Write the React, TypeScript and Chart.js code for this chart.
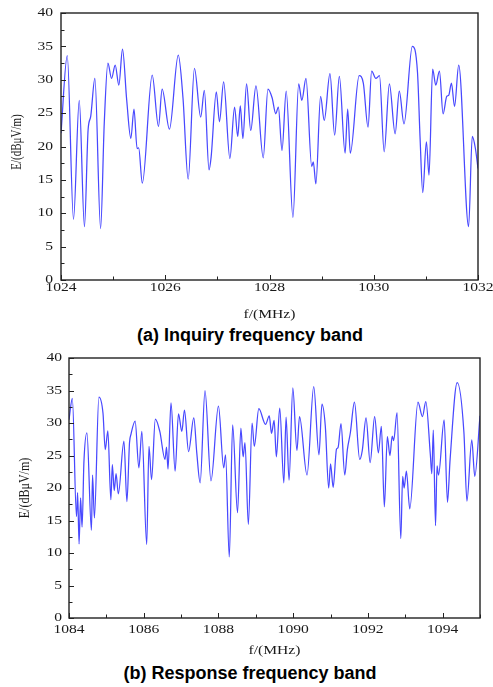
import React, { useEffect, useRef } from 'react';
import { Chart, registerables } from 'chart.js';

Chart.register(...registerables);

// ---------- data: (a) inquiry band ----------
const freqA = [
  1024.0, 1024.12, 1024.24, 1024.35, 1024.45, 1024.52, 1024.57, 1024.65, 1024.76, 1024.83,
  1024.9, 1024.97, 1025.04, 1025.11, 1025.18, 1025.26, 1025.34, 1025.4, 1025.46, 1025.49,
  1025.56, 1025.75, 1025.87, 1025.94, 1026.08, 1026.25, 1026.34, 1026.44, 1026.56, 1026.68,
  1026.75, 1026.84, 1026.88, 1026.98, 1027.04, 1027.12, 1027.24, 1027.33, 1027.39, 1027.44,
  1027.49, 1027.56, 1027.64, 1027.74, 1027.88, 1027.97, 1028.05, 1028.12, 1028.17, 1028.24,
  1028.32, 1028.45, 1028.56, 1028.62, 1028.7, 1028.81, 1028.84, 1028.89, 1028.98, 1029.05,
  1029.16, 1029.25, 1029.34, 1029.45, 1029.5, 1029.55, 1029.72, 1029.8, 1029.89, 1029.96,
  1030.04, 1030.11, 1030.2, 1030.3, 1030.41, 1030.49, 1030.58, 1030.74, 1030.84, 1030.89,
  1030.94, 1031.01, 1031.06, 1031.13, 1031.19, 1031.26, 1031.33, 1031.4, 1031.44, 1031.49,
  1031.55, 1031.63, 1031.82, 1031.89, 1031.95, 1032.0,
];
const fieldA = [
  22.0, 33.6, 9.1, 26.9, 8.0, 22.5, 24.5, 30.2, 7.7, 23.5,
  32.5, 30.2, 32.2, 29.2, 34.6, 27.0, 21.2, 25.6, 19.7, 19.8,
  14.5, 30.7, 23.0, 28.6, 22.6, 33.7, 27.3, 15.1, 31.7, 24.4,
  28.4, 16.5, 18.4, 28.2, 23.7, 29.7, 18.2, 25.9, 21.5, 26.1,
  21.2, 29.4, 22.4, 29.1, 18.3, 28.6, 27.3, 24.9, 25.9, 19.4,
  28.3, 9.4, 29.4, 26.9, 30.2, 17.0, 17.7, 14.4, 27.5, 23.9,
  30.9, 21.7, 30.5, 19.0, 25.6, 19.0, 30.6, 29.5, 22.9, 31.3,
  30.2, 30.6, 19.2, 29.4, 21.9, 28.3, 23.4, 35.0, 31.0, 21.0,
  13.1, 20.7, 15.7, 31.6, 29.2, 31.3, 24.9, 27.5, 27.7, 29.5,
  26.0, 32.2, 8.0, 21.5, 19.7, 16.7,
];

// ---------- data: (b) response band ----------
const freqB = [
  1084.0, 1084.09, 1084.2, 1084.23, 1084.27, 1084.31, 1084.35, 1084.4, 1084.48, 1084.6,
  1084.63, 1084.68, 1084.8, 1084.91, 1084.97, 1085.04, 1085.12, 1085.16, 1085.21, 1085.26,
  1085.32, 1085.47, 1085.55, 1085.62, 1085.66, 1085.77, 1085.87, 1085.95, 1086.08, 1086.14,
  1086.21, 1086.31, 1086.43, 1086.57, 1086.61, 1086.65, 1086.73, 1086.84, 1086.93, 1087.02,
  1087.09, 1087.2, 1087.34, 1087.42, 1087.51, 1087.64, 1087.8, 1088.0, 1088.14, 1088.19,
  1088.29, 1088.38, 1088.51, 1088.6, 1088.66, 1088.71, 1088.8, 1088.9, 1088.96, 1089.08,
  1089.26, 1089.36, 1089.42, 1089.49, 1089.55, 1089.64, 1089.75, 1089.81, 1089.89, 1089.99,
  1090.1, 1090.17, 1090.37, 1090.55, 1090.69, 1090.77, 1090.86, 1090.95, 1091.0, 1091.07,
  1091.16, 1091.2, 1091.28, 1091.38, 1091.45, 1091.53, 1091.64, 1091.78, 1091.85, 1091.95,
  1092.06, 1092.18, 1092.28, 1092.36, 1092.44, 1092.52, 1092.59, 1092.65, 1092.69, 1092.78,
  1092.88, 1092.93, 1092.97, 1093.03, 1093.12, 1093.34, 1093.46, 1093.55, 1093.67, 1093.71,
  1093.75, 1093.81, 1093.85, 1093.89, 1094.04, 1094.13, 1094.2, 1094.39, 1094.57, 1094.65,
  1094.78, 1094.86, 1095.0,
];
const fieldB = [
  30.5, 33.8, 15.6, 19.3, 11.4, 18.5, 14.0, 24.1, 28.5, 13.5,
  22.0, 15.4, 34.0, 31.5, 25.9, 28.8, 18.2, 23.6, 19.6, 22.2,
  19.1, 27.2, 17.9, 27.0, 28.3, 30.3, 23.1, 28.7, 11.3, 26.4,
  21.3, 30.6, 28.7, 24.4, 26.3, 22.9, 33.1, 22.6, 31.4, 28.7,
  32.0, 25.6, 30.8, 25.4, 20.8, 35.0, 21.1, 32.6, 23.1, 25.1,
  9.4, 29.7, 16.2, 29.2, 24.8, 27.0, 14.4, 30.0, 26.4, 32.2,
  29.8, 31.1, 28.4, 30.4, 24.8, 32.3, 20.8, 30.9, 21.2, 35.4,
  25.8, 31.0, 22.0, 35.6, 25.1, 32.9, 29.5, 20.0, 23.7, 20.1,
  26.0, 26.2, 29.9, 22.0, 25.9, 28.5, 33.2, 24.4, 25.8, 30.8,
  23.9, 31.0, 25.4, 29.5, 17.1, 27.9, 25.0, 28.0, 27.3, 31.6,
  12.2, 21.8, 20.0, 22.6, 16.8, 33.2, 31.0, 33.3, 25.2, 22.2,
  28.9, 14.2, 23.4, 22.0, 30.5, 17.8, 24.4, 36.2, 28.5, 18.0,
  27.4, 21.8, 31.1,
];

const yTickLabels = [0, 5, 10, 15, 20, 25, 30, 35, 40];
const xTickLabelsA = [1024, 1026, 1028, 1030, 1032];
const xTickLabelsB = [1084, 1086, 1088, 1090, 1092, 1094];
const yTitle = 'E/(dBμV/m)';
const xTitle = 'f/(MHz)';
const captionA = '(a) Inquiry frequency band';
const captionB = '(b) Response frequency band';

type AxisCfg = {
  xMajor: number[];
  xMinorStep: number;
  yMajor: number[];
  yMinorStep: number;
  stretch: number;
  labelFont: number;
  yTitleFont: number;
  yLabelGap: number;
  xLabelGap: number;
  yTitleX: number;
  yTitleY: number;
  xTitleY: number;
};

function drawText(ctx: CanvasRenderingContext2D, text: string, x: number, y: number, align: CanvasTextAlign, stretch: number, rotate = false) {
  ctx.save();
  ctx.translate(x, y);
  if (rotate) {
    ctx.rotate(-Math.PI / 2);
    ctx.scale(1, stretch);
  } else {
    ctx.scale(stretch, 1);
  }
  ctx.textAlign = align;
  ctx.textBaseline = 'middle';
  ctx.fillText(text, 0, 0);
  ctx.restore();
}

const sciAxes = {
  id: 'sciAxes',
  afterDraw(chart: any, _args: any, cfg: AxisCfg) {
    const ctx: CanvasRenderingContext2D = chart.ctx;
    const { left, right, top, bottom } = chart.chartArea;
    const xs = chart.scales.x;
    const ys = chart.scales.y;
    ctx.save();
    ctx.strokeStyle = '#222';
    ctx.fillStyle = '#1a1a1a';
    // inward ticks
    ctx.lineWidth = 1;
    ctx.beginPath();
    for (let v = ys.min; v <= ys.max + 1e-9; v += cfg.yMinorStep) {
      const py = Math.round(ys.getPixelForValue(v)) + 0.5;
      const major = Math.abs(v / 5 - Math.round(v / 5)) < 1e-6;
      ctx.moveTo(left, py);
      ctx.lineTo(left + (major ? 5 : 3.5), py);
    }
    for (let v = xs.min; v <= xs.max + 1e-9; v += cfg.xMinorStep) {
      const px = Math.round(xs.getPixelForValue(v)) + 0.5;
      const major = cfg.xMajor.some((m) => Math.abs(m - v) < 1e-6);
      ctx.moveTo(px, bottom);
      ctx.lineTo(px, bottom - (major ? 5 : 3.5));
    }
    ctx.stroke();
    // frame
    ctx.lineWidth = 1.4;
    ctx.strokeRect(left, top, right - left, bottom - top);
    // tick labels
    ctx.font = `${cfg.labelFont}px "Liberation Serif", "Times New Roman", serif`;
    cfg.yMajor.forEach((v) => {
      drawText(ctx, String(v), left - cfg.yLabelGap, ys.getPixelForValue(v), 'right', cfg.stretch);
    });
    cfg.xMajor.forEach((v) => {
      drawText(ctx, String(v), xs.getPixelForValue(v), bottom + cfg.xLabelGap, 'center', cfg.stretch);
    });
    // titles
    drawText(ctx, xTitle, (left + right) / 2, cfg.xTitleY, 'center', cfg.stretch);
    ctx.font = `${cfg.yTitleFont}px "Liberation Serif", "Times New Roman", serif`;
    drawText(ctx, yTitle, cfg.yTitleX, cfg.yTitleY, 'center', cfg.stretch, true);
    ctx.restore();
  },
};

type PanelProps = {
  freq: number[];
  field: number[];
  xMin: number;
  xMax: number;
  xMajor: number[];
  width: number;
  height: number;
  padding: { left: number; right: number; top: number; bottom: number };
  axisCfg: AxisCfg;
  top: number;
};

function Panel(p: PanelProps) {
  const ref = useRef<HTMLCanvasElement | null>(null);
  useEffect(() => {
    if (!ref.current) return;
    const data = p.freq.map((f, i) => ({ x: f, y: p.field[i] }));
    const chart = new Chart(ref.current, {
      type: 'line',
      data: {
        datasets: [
          {
            data,
            borderColor: '#4848ff',
            borderWidth: 1.25,
            pointRadius: 0,
            fill: false,
            cubicInterpolationMode: 'monotone',
          },
        ],
      },
      options: {
        responsive: false,
        animation: false,
        devicePixelRatio: 1,
        layout: { padding: p.padding },
        events: [],
        scales: {
          x: { type: 'linear', min: p.xMin, max: p.xMax, display: false },
          y: { type: 'linear', min: 0, max: 40, display: false },
        },
        plugins: {
          legend: { display: false },
          tooltip: { enabled: false },
          sciAxes: p.axisCfg,
        } as any,
      },
      plugins: [sciAxes],
    } as any);
    return () => chart.destroy();
  }, []);
  return (
    <canvas
      ref={ref}
      width={p.width}
      height={p.height}
      style={{ position: 'absolute', left: 0, top: p.top, width: p.width, height: p.height }}
    />
  );
}

const captionStyle = (top: number): React.CSSProperties => ({
  position: 'absolute',
  left: 0,
  width: 500,
  top,
  textAlign: 'center',
  fontFamily: '"Liberation Sans", Arial, sans-serif',
  fontWeight: 'bold',
  fontSize: 18,
  lineHeight: '20px',
  color: '#000',
});

export default function App() {
  return (
    <div style={{ position: 'absolute', left: 0, top: 0, width: 493, height: 687, background: '#fff', overflow: 'hidden' }}>
      <Panel
        freq={freqA}
        field={fieldA}
        xMin={1024}
        xMax={1032}
        xMajor={xTickLabelsA}
        width={493}
        height={325}
        top={0}
        padding={{ left: 61, right: 15, top: 13, bottom: 45 }}
        axisCfg={{
          xMajor: xTickLabelsA,
          xMinorStep: 1,
          yMajor: yTickLabels,
          yMinorStep: 2.5,
          stretch: 1.3,
          labelFont: 12,
          yTitleFont: 11,
          yLabelGap: 8,
          xLabelGap: 8,
          yTitleX: 17,
          yTitleY: 142,
          xTitleY: 315,
        }}
      />
      <div style={captionStyle(325)}>{captionA}</div>
      <Panel
        freq={freqB}
        field={fieldB}
        xMin={1084}
        xMax={1095}
        xMajor={xTickLabelsB}
        width={493}
        height={320}
        top={340}
        padding={{ left: 69, right: 13, top: 18, bottom: 42 }}
        axisCfg={{
          xMajor: xTickLabelsB,
          xMinorStep: 1,
          yMajor: yTickLabels,
          yMinorStep: 2.5,
          stretch: 1.3,
          labelFont: 12,
          yTitleFont: 12,
          yLabelGap: 7,
          xLabelGap: 12,
          yTitleX: 25,
          yTitleY: 148,
          xTitleY: 311,
        }}
      />
      <div style={captionStyle(663)}>{captionB}</div>
    </div>
  );
}
